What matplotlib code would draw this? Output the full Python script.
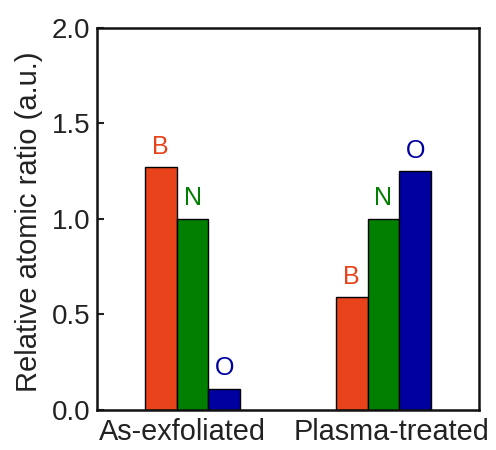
import matplotlib
matplotlib.use("Agg")
import matplotlib.pyplot as plt
import numpy as np

plt.rcParams['font.family'] = ['Liberation Sans', 'DejaVu Sans']

samples = ["As-exfoliated", "Plasma-treated"]
elements = ["B", "N", "O"]
values = {
    "B": [1.27, 0.59],
    "N": [1.00, 1.00],
    "O": [0.11, 1.25],
}
colors = {"B": "#E8431A", "N": "#007F00", "O": "#0000A0"}
yticks = [0.0, 0.5, 1.0, 1.5, 2.0]

fig = plt.figure(figsize=(4.96, 4.5), dpi=100)
ax = fig.add_axes([0.1956, 0.0889, 0.7701, 0.8489])

x = np.arange(len(samples))
w = 0.167
for i, el in enumerate(elements):
    xs = x + (i - 1) * w
    ax.bar(xs, values[el], width=w, color=colors[el], edgecolor="black", linewidth=1.0)
    for xi, v in zip(xs, values[el]):
        ax.text(xi, v + 0.045, el, ha="center", va="bottom", color=colors[el], fontsize=18)

ax.set_xlim(-0.5, 1.5)
ax.set_ylim(0, 2.0)
ax.set_yticks(yticks)
ax.set_yticklabels([f"{t:.1f}" for t in yticks])
label_shift = np.array([-0.052, 0.042])
ax.set_xticks(x + label_shift)
ax.set_xticklabels(samples)
ax.tick_params(axis="y", direction="in", length=5, width=1.5, pad=5, labelsize=20, colors="#222222", labelcolor="#222222")
ax.tick_params(axis="x", length=0, pad=6, labelsize=20.8, labelcolor="#222222")
for s in ax.spines.values():
    s.set_linewidth(1.8)
    s.set_color("#111111")
ax.set_ylabel("Relative atomic ratio (a.u.)", fontsize=21, color="#222222")
ax.yaxis.set_label_coords(-0.141, 0.493)

fig.savefig("out.png", dpi=100)
